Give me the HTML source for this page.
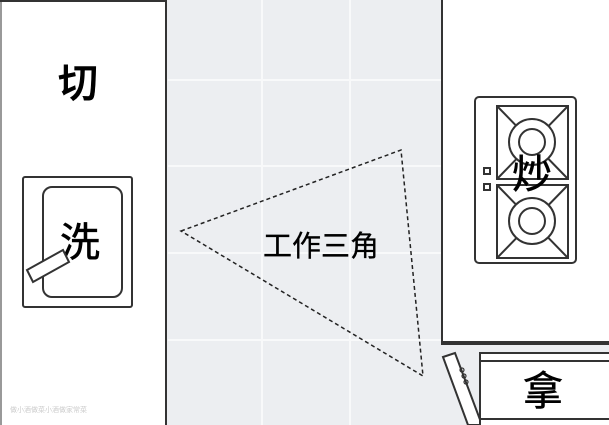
<html><body style="margin:0;width:609px;height:425px;overflow:hidden;background:#eceef1">
<svg width="609" height="425" viewBox="0 0 609 425" style="position:absolute;left:0;top:0" font-family="'Liberation Sans','Noto Sans CJK SC',sans-serif">
<g stroke="#f8f9fa" stroke-width="2">
<line x1="262" y1="0" x2="262" y2="425"/><line x1="350" y1="0" x2="350" y2="425"/>
<line x1="168" y1="80" x2="441" y2="80"/><line x1="168" y1="166" x2="441" y2="166"/>
<line x1="168" y1="253" x2="441" y2="253"/><line x1="168" y1="340" x2="441" y2="340"/>
</g>
<rect x="0" y="1" width="166" height="430" fill="#fff" stroke="#333" stroke-width="2"/>
<line x1="1" y1="2" x2="1" y2="425" stroke="#999" stroke-width="2"/>
<g font-weight="500" stroke="#000" stroke-width="0.6">
<text x="78" y="97" font-size="40" text-anchor="middle">切</text>
</g>
<rect x="23" y="177" width="109" height="130" rx="2" fill="#fff" stroke="#333" stroke-width="2"/>
<rect x="43" y="187" width="79" height="110" rx="9" fill="#fff" stroke="#333" stroke-width="2"/>
<text x="80" y="256" font-size="40" text-anchor="middle" stroke="#000" stroke-width="0.6">洗</text>
<polygon points="27,270 63,250 69,262 33,282" fill="#fff" stroke="#333" stroke-width="2"/>
<text x="10" y="412" font-size="7" fill="#ccc">做小酒做菜小酒做家常菜</text>
<rect x="442" y="-2" width="170" height="346" fill="#fff" stroke="#333" stroke-width="2"/>
<line x1="442" y1="343" x2="609" y2="343" stroke="#333" stroke-width="4"/>
<rect x="475" y="97" width="101" height="166" rx="4" fill="#fff" stroke="#333" stroke-width="2"/>
<g fill="none" stroke="#333" stroke-width="2">
<rect x="497" y="106" width="71" height="73"/><line x1="497" y1="106" x2="568" y2="179"/><line x1="568" y1="106" x2="497" y2="179"/>
<circle cx="532" cy="142" r="23" fill="#fff"/><circle cx="532" cy="142" r="13"/>
<rect x="497" y="185" width="71" height="73"/><line x1="497" y1="185" x2="568" y2="258"/><line x1="568" y1="185" x2="497" y2="258"/>
<circle cx="532" cy="221" r="23" fill="#fff"/><circle cx="532" cy="221" r="13"/>
<rect x="484" y="168" width="6" height="6"/><rect x="484" y="184" width="6" height="6"/>
</g>
<text x="532" y="188" font-size="40" text-anchor="middle" stroke="#000" stroke-width="0.6">炒</text>
<polygon points="443,357 455,353 482,425 468,425" fill="#fff" stroke="#333" stroke-width="2"/>
<g fill="none" stroke="#333" stroke-width="1.2"><circle cx="462" cy="370" r="2"/><circle cx="464" cy="376" r="2"/><circle cx="466" cy="382" r="2"/></g>
<rect x="480" y="353" width="132" height="80" fill="#fff" stroke="#333" stroke-width="2"/>
<line x1="480" y1="361" x2="609" y2="361" stroke="#333" stroke-width="2"/>
<line x1="480" y1="419" x2="609" y2="419" stroke="#333" stroke-width="2"/>
<text x="543" y="405" font-size="40" text-anchor="middle" stroke="#000" stroke-width="0.6">拿</text>
<polygon points="181,231 401,150 423,376" fill="none" stroke="#222" stroke-width="1.5" stroke-dasharray="4,3"/>
<text x="321" y="256" font-size="29" text-anchor="middle" stroke="#000" stroke-width="0.3">工作三角</text>
</svg>
</body></html>
